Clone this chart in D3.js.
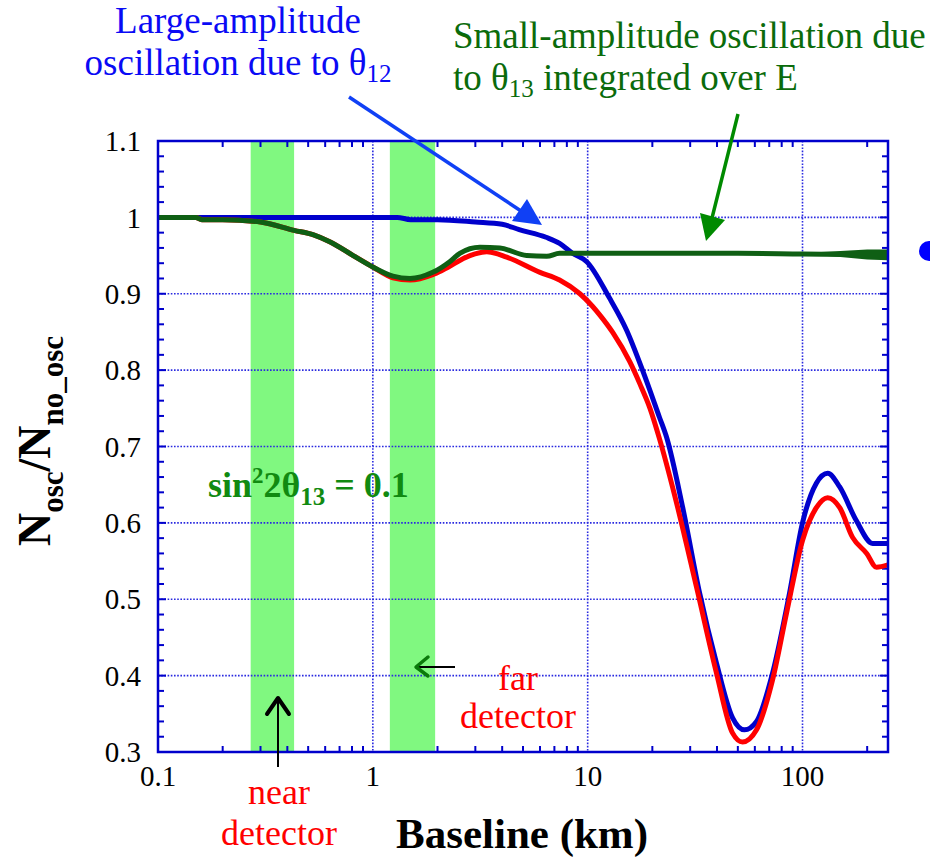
<!DOCTYPE html>
<html><head><meta charset="utf-8">
<script src="https://cdn.jsdelivr.net/npm/d3@7"></script>
<style>body{margin:0;background:#fff}svg{display:block}</style>
</head><body><svg id="c" width="930" height="866" font-family="'Liberation Serif', Tinos, 'Times New Roman', 'DejaVu Serif', serif"></svg>
<script>
// ---- data ----
const blueL = [0.1,0.5,1.0,1.3,1.5,2.0,3.0,4.0,4.8,6.4,7.4,8.5,9.9,12.6,15.2,18.0,21.6,23.3,27.7,33.2,39.8,47.2,53.7,61.1,72.5,87,100,116,131,149,178,212,250];
const blueV = [1.0,1.0,1.0,1.0,0.997,0.997,0.994,0.991,0.984,0.974,0.966,0.953,0.942,0.895,0.852,0.800,0.738,0.712,0.620,0.508,0.416,0.345,0.329,0.340,0.403,0.508,0.600,0.652,0.665,0.647,0.603,0.573,0.573];
const redL = [0.1,0.15,0.16,0.2,0.3,0.43,0.53,0.63,0.81,1.0,1.24,1.49,1.9,2.12,2.83,3.39,4.2,6.0,7.4,9.2,10.5,11.4,13.1,15.7,17.5,19.5,21.6,25.3,32.1,39.8,47.2,52.6,61.1,72.5,84.3,100,116,131,149,171,199,221,250];
const redV = [1.0,1.0,0.997,0.997,0.994,0.983,0.977,0.968,0.950,0.935,0.921,0.918,0.925,0.931,0.950,0.955,0.948,0.928,0.918,0.900,0.884,0.872,0.849,0.811,0.782,0.750,0.710,0.638,0.516,0.403,0.325,0.313,0.329,0.394,0.482,0.577,0.620,0.633,0.620,0.581,0.560,0.542,0.545];
const greenL = [0.1,0.15,0.16,0.2,0.3,0.43,0.53,0.63,0.81,1.0,1.24,1.49,1.9,2.28,2.54,3.15,3.9,5.2,6.45,7.4,14,50,100,250];
const greenV = [1.0,1.0,0.997,0.997,0.994,0.983,0.977,0.968,0.950,0.935,0.923,0.920,0.928,0.942,0.953,0.961,0.960,0.950,0.949,0.953,0.953,0.953,0.952,0.951];
const noiseL = [110,150,200,250];
const noiseLo = [0.951,0.948,0.945,0.944];
const noiseHi = [0.954,0.956,0.958,0.958];
const bandNear = [0.27,0.43];
const bandFar = [1.2,1.95];
const xTickVals = [0.1,1,10,100];
const xTickLabels = ["0.1","1","10","100"];
const yTickVals = [0.3,0.4,0.5,0.6,0.7,0.8,0.9,1.0,1.1];
const yTickLabels = ["0.3","0.4","0.5","0.6","0.7","0.8","0.9","1","1.1"];

// ---- scales ----
const svg = d3.select("#c");
const x = d3.scaleLog().domain([0.1,250]).range([158,888]);
const y = d3.scaleLinear().domain([0.3,1.1]).range([752,141]);
const AX = "#0000cc";

// bands
[bandNear, bandFar].forEach(b => {
  svg.append("rect").attr("x", x(b[0])).attr("y", y(1.1)).attr("width", x(b[1]) - x(b[0]))
    .attr("height", y(0.3) - y(1.1)).attr("fill", "#80f880");
});

// grid
const grid = svg.append("g").attr("stroke", "#2a2ae0").attr("stroke-width", 1.6).attr("stroke-dasharray", "1.6,1.6");
[1,10,100].forEach(v => grid.append("line").attr("x1", x(v)).attr("x2", x(v)).attr("y1", y(1.1)).attr("y2", y(0.3)));
d3.range(0.4, 1.05, 0.1).forEach(v => grid.append("line").attr("x1", x(0.1)).attr("x2", x(250)).attr("y1", y(v)).attr("y2", y(v)));

// minor ticks
const tk = svg.append("g").attr("stroke", AX).attr("stroke-width", 2);
const minorX = [];
for (let d = 0.1; d < 250; d *= 10) for (let k = 2; k <= 9; k++) if (d*k < 250) minorX.push(d*k);
minorX.forEach(v => {
  tk.append("line").attr("x1", x(v)).attr("x2", x(v)).attr("y1", y(0.3)).attr("y2", y(0.3) - 6);
  tk.append("line").attr("x1", x(v)).attr("x2", x(v)).attr("y1", y(1.1)).attr("y2", y(1.1) + 6);
});
d3.range(0.32, 1.1, 0.02).forEach(v => {
  const L = Math.abs(Math.round(v*100) % 10) === 0 ? 8 : 6;
  tk.append("line").attr("x1", x(0.1)).attr("x2", x(0.1) + L).attr("y1", y(v)).attr("y2", y(v));
  tk.append("line").attr("x1", x(250)).attr("x2", x(250) - L).attr("y1", y(v)).attr("y2", y(v));
});

// curves
const line = d3.line().x(d => x(d[0])).y(d => y(d[1])).curve(d3.curveMonotoneX);
const zip = (a, b) => a.map((v, i) => [v, b[i]]);
svg.append("path").attr("d", line(zip(blueL, blueV))).attr("fill", "none").attr("stroke", "#0000cc").attr("stroke-width", 5);
svg.append("path").attr("d", line(zip(redL, redV))).attr("fill", "none").attr("stroke", "#ff0000").attr("stroke-width", 5);
svg.append("path").attr("d", line(zip(greenL, greenV))).attr("fill", "none").attr("stroke", "#0f5f14").attr("stroke-width", 5);
const area = d3.area().x(d => x(d[0])).y0(d => y(d[1])).y1(d => y(d[2]));
svg.append("path").attr("d", area(noiseL.map((v, i) => [v, noiseLo[i], noiseHi[i]]))).attr("fill", "#0f5f14");

// frame
svg.append("rect").attr("x", x(0.1)).attr("y", y(1.1)).attr("width", x(250) - x(0.1)).attr("height", y(0.3) - y(1.1))
  .attr("fill", "none").attr("stroke", AX).attr("stroke-width", 2.5);

// tick labels
xTickVals.forEach((v, i) => svg.append("text").attr("x", x(v)).attr("y", 786).attr("text-anchor", "middle")
  .attr("font-size", 29).text(xTickLabels[i]));
yTickVals.forEach((v, i) => svg.append("text").attr("x", 141).attr("y", y(v)).attr("dy", "0.35em").attr("text-anchor", "end")
  .attr("font-size", 29).text(yTickLabels[i]));

// axis titles
svg.append("text").attr("x", 522).attr("y", 848).attr("text-anchor", "middle").attr("font-size", 43)
  .attr("font-weight", "bold").text("Baseline (km)");
const yl = svg.append("text").attr("transform", "translate(50,441) rotate(-90)").attr("text-anchor", "middle")
  .attr("font-weight", "bold").attr("font-size", 46);
yl.append("tspan").text("N");
yl.append("tspan").attr("font-size", 31).attr("dy", 13).text("osc");
yl.append("tspan").attr("dy", -13).text("/N");
yl.append("tspan").attr("font-size", 31).attr("dy", 13).text("no_osc");

// annotations
const t1 = svg.append("text").attr("x", 238).attr("y", 33).attr("text-anchor", "middle").attr("font-size", 37).attr("fill", "#0a0af5");
t1.text("Large-amplitude");
const t2 = svg.append("text").attr("x", 238).attr("y", 75).attr("text-anchor", "middle").attr("font-size", 37).attr("fill", "#0a0af5");
t2.append("tspan").text("oscillation due to θ");
t2.append("tspan").attr("font-size", 25).attr("dy", 7).text("12");

svg.append("text").attr("x", 453).attr("y", 48).attr("font-size", 37).attr("fill", "#0b6b0b").text("Small-amplitude oscillation due");
const t4 = svg.append("text").attr("x", 453).attr("y", 90).attr("font-size", 37).attr("fill", "#0b6b0b");
t4.append("tspan").text("to θ");
t4.append("tspan").attr("font-size", 25).attr("dy", 7).text("13");
t4.append("tspan").attr("dy", -7).text(" integrated over E");

const s = svg.append("text").attr("x", 208).attr("y", 497).attr("font-size", 36).attr("font-weight", "bold").attr("fill", "#118a11");
s.append("tspan").text("sin");
s.append("tspan").attr("font-size", 23).attr("dy", -14).text("2");
s.append("tspan").attr("dy", 14).text("2θ");
s.append("tspan").attr("font-size", 25).attr("dy", 8).text("13");
s.append("tspan").attr("dy", -8).text(" = 0.1");

[["near", 804], ["detector", 845]].forEach(d => svg.append("text").attr("x", 279).attr("y", d[1]).attr("text-anchor", "middle")
  .attr("font-size", 36).attr("fill", "#ff0000").text(d[0]));
[["far", 690], ["detector", 728]].forEach(d => svg.append("text").attr("x", 518).attr("y", d[1]).attr("text-anchor", "middle")
  .attr("font-size", 36).attr("fill", "#ff0000").text(d[0]));

// arrows
svg.append("line").attr("x1", 349).attr("y1", 97).attr("x2", 524).attr("y2", 213).attr("stroke", "#1040f5").attr("stroke-width", 3.5);
svg.append("polygon").attr("points", "542,225 512,221 527,199").attr("fill", "#1040f5");
svg.append("line").attr("x1", 738).attr("y1", 114).attr("x2", 711).attr("y2", 222).attr("stroke", "#008a00").attr("stroke-width", 3.5);
svg.append("polygon").attr("points", "706,241 700,213 725,220").attr("fill", "#008a00");

svg.append("line").attr("x1", 278).attr("y1", 767).attr("x2", 278).attr("y2", 698).attr("stroke", "#000").attr("stroke-width", 2);
svg.append("polyline").attr("points", "267,714 278,698 289,714").attr("fill", "none").attr("stroke", "#000").attr("stroke-width", 4).attr("stroke-linecap", "round").attr("stroke-linejoin", "round");
svg.append("line").attr("x1", 455).attr("y1", 667).attr("x2", 418).attr("y2", 667).attr("stroke", "#000").attr("stroke-width", 2);
svg.append("polyline").attr("points", "428,657 416,667 428,676").attr("fill", "none").attr("stroke", "#0a7a0a").attr("stroke-width", 3.5).attr("stroke-linecap", "round").attr("stroke-linejoin", "round");

svg.append("circle").attr("cx", 929).attr("cy", 251).attr("r", 10).attr("fill", "#0000ff");
</script></body></html>
